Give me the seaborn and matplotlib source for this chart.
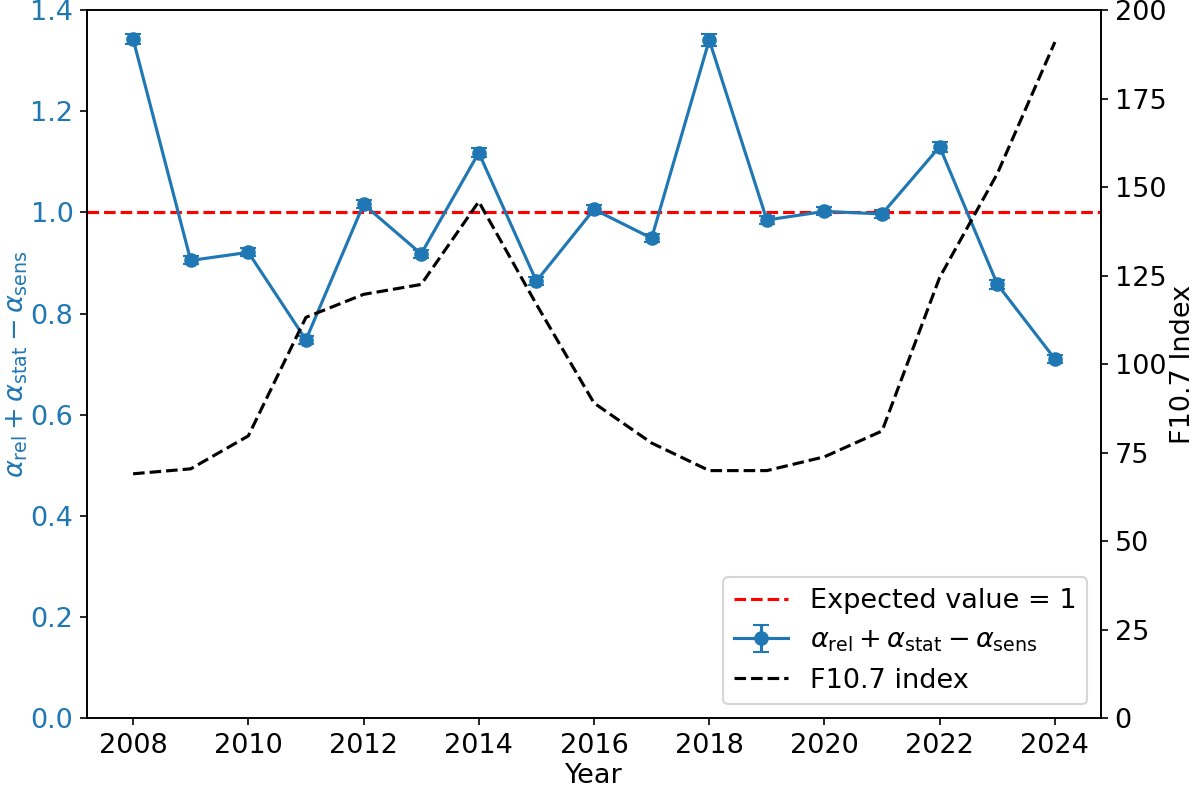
import matplotlib
matplotlib.use("Agg")
import matplotlib.pyplot as plt
import seaborn as sns
import pandas as pd

# yearly values
years = [2008, 2009, 2010, 2011, 2012, 2013, 2014, 2015, 2016,
         2017, 2018, 2019, 2020, 2021, 2022, 2023, 2024]
alpha_sum = [1.343, 0.905, 0.921, 0.748, 1.016, 0.918, 1.118, 0.864, 1.006,
             0.949, 1.341, 0.985, 1.002, 0.997, 1.130, 0.858, 0.710]
alpha_err = [0.010, 0.008, 0.008, 0.008, 0.008, 0.008, 0.009, 0.008, 0.009,
             0.008, 0.011, 0.008, 0.008, 0.008, 0.010, 0.009, 0.007]
f107 = [69.0, 70.4, 79.7, 113.2, 119.7, 122.5, 145.9, 116.9, 89.0,
        77.7, 69.9, 69.9, 73.8, 81.1, 124.5, 153.8, 191.0]

df = pd.DataFrame({"Year": years, "alpha": alpha_sum, "err": alpha_err, "F107": f107})

blue = "#1f77b4"
label = r"$\alpha_{\rm rel} + \alpha_{\rm stat} - \alpha_{\rm sens}$"

plt.rcParams["font.size"] = 13
fig = plt.figure(figsize=(8, 5.247), dpi=150)
ax1 = fig.add_axes([0.0725, 0.0877, 0.845, 0.8993])

# main series with error bars
ax1.errorbar(df["Year"], df["alpha"], yerr=df["err"], fmt="-o", color=blue,
             capsize=4, label=label)
ax1.axhline(1.0, color="red", linestyle="--", label="Expected value = 1")
ax1.set_ylim(0, 1.4)
ax1.set_xlabel("Year", labelpad=2)
ax1.set_ylabel(label, color=blue, labelpad=0)
ax1.tick_params(axis="y", labelcolor=blue, pad=3)
ax1.set_xticks(range(2008, 2025, 2))

# F10.7 index on the right axis
ax2 = ax1.twinx()
sns.lineplot(data=df, x="Year", y="F107", ax=ax2, color="black",
             linestyle="--", label="F10.7 index", legend=False)
ax2.set_ylim(0, 200)
ax2.set_ylabel("F10.7 Index", labelpad=2)
ax2.tick_params(axis="y", pad=3)

h1, l1 = ax1.get_legend_handles_labels()
h2, l2 = ax2.get_legend_handles_labels()
order = [l1.index("Expected value = 1"), l1.index(label)]
ax2.legend([h1[i] for i in order] + h2, [l1[i] for i in order] + l2,
           loc="lower right")

fig.savefig("out.png", dpi=150)
